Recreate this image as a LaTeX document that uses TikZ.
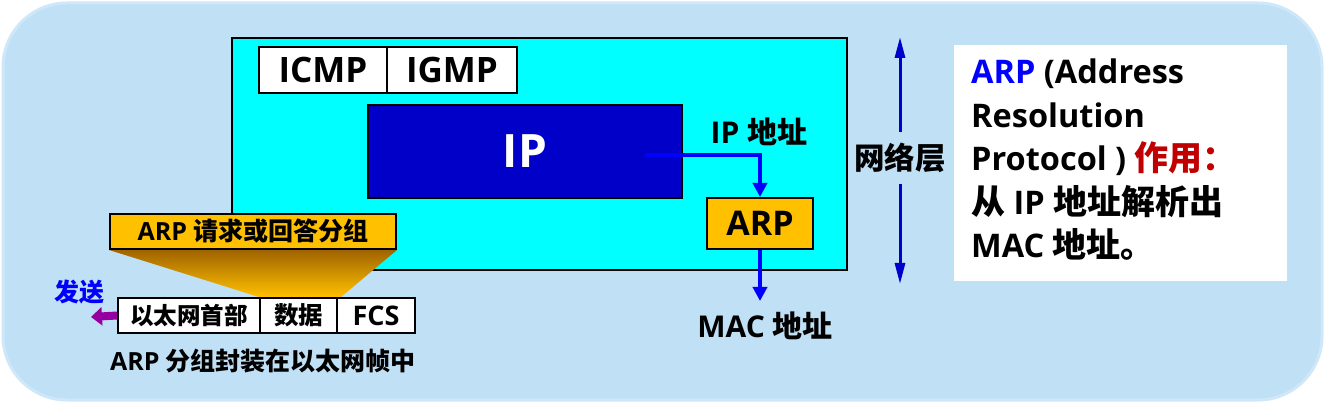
\documentclass[tikz,border=0pt]{standalone}
\usepackage{fontspec}
\setmainfont{Open Sans}
\newfontfamily\cjk{Noto Sans CJK SC}
\newfontfamily\cjkL{Noto Sans CJK SC}[Scale=1.045]
\usetikzlibrary{arrows.meta}
\definecolor{bgblue}{RGB}{192,224,245}
\definecolor{bgedge}{RGB}{206,232,250}
\definecolor{netcyan}{RGB}{0,255,255}
\definecolor{ipblue}{RGB}{0,0,200}
\definecolor{arporange}{RGB}{255,192,0}
\definecolor{arrblue}{RGB}{0,0,255}
\definecolor{vblue}{RGB}{0,0,205}
\definecolor{sendpurple}{RGB}{150,0,160}
\definecolor{darkred}{RGB}{192,0,0}
\definecolor{trapdark}{RGB}{160,100,0}
\pgfdeclarelayer{back}
\pgfdeclarelayer{mid}
\pgfsetlayers{back,mid,main}
\tikzset{
  box/.style={draw=black, line width=2pt, inner sep=0pt, font=\bfseries},
  txt/.style={inner sep=0pt, font=\bfseries},
  barrow/.style={draw=arrblue, line width=4pt, -{Triangle[width=14pt,length=14pt]}},
  varrow/.style={draw=vblue, line width=3pt, -{Triangle[width=10pt,length=21pt]}},
  parrow/.style={draw=sendpurple, line width=8pt, -{Triangle[width=18pt,length=11pt]}},
}
\begin{document}
\begin{tikzpicture}[x=1pt,y=-1pt]
\useasboundingbox (0,0) rectangle (1325,403);
\begin{pgfonlayer}{back}
\fill[white] (0,0) rectangle (1325,403);
\draw[fill=bgblue, draw=bgedge, line width=3pt, rounded corners=64pt] (3,3) rectangle (1322,400);
\node[box, fill=netcyan, minimum width=615pt, minimum height=232pt] (net) at (539.5,154) {};
\end{pgfonlayer}

% upper protocols
\node[box, fill=white, minimum width=128pt, minimum height=46pt, font=\bfseries\fontsize{35}{40}\selectfont] (icmp) at (323,70) {ICMP};
\node[box, fill=white, minimum width=130pt, minimum height=46pt, font=\bfseries\fontsize{35}{40}\selectfont] (igmp) at (452,70) {IGMP};

% IP
\node[box, fill=ipblue, text=white, minimum width=314pt, minimum height=93pt, font=\bfseries\fontsize{46}{52}\selectfont] (ip) at (525,151.5) {IP};
\coordinate (ipout) at (645,155);

% ARP
\node[box, fill=arporange, minimum width=106pt, minimum height=51pt, font=\bfseries\fontsize{34}{40}\selectfont] (arp) at (760,223.5) {ARP};
\draw[barrow] (ipout) -| (arp.north);
\node[txt, font=\bfseries\fontsize{30}{36}\selectfont] (ipaddr) at (759,132) {IP {\cjk\bfseries 地址}};
\coordinate (macend) at (760,301);
\draw[barrow] (arp.south) -- (macend);
\node[txt, font=\bfseries\fontsize{30}{36}\selectfont] (mac) at (765,326) {MAC {\cjk\bfseries 地址}};

% network layer arrow
\node[txt, minimum height=51pt, font=\cjk\bfseries\fontsize{30.5}{34}\selectfont] (layer) at (900,158) {网络层};
\coordinate (vtop) at (900,37);
\coordinate (vbot) at (900,284);
\draw[varrow] (layer.north) -- (vtop);
\draw[varrow] (layer.south) -- (vbot);

% explanation box
\node[fill=white, inner sep=0pt, minimum width=333pt, minimum height=236pt] (expl) at (1120.5,163) {};
\node[txt, anchor=west, align=left, font=\bfseries\fontsize{32.5}{43.5}\selectfont] (expltext) at (971,160)
 {{\color{arrblue}ARP} (Address\\
  Resolution\\
  Protocol ) {\color{darkred}\cjkL\bfseries 作用：}\\
  {\cjkL\bfseries 从} IP {\cjkL\bfseries 地址解析出}\\
  MAC {\cjkL\bfseries 地址。}};

% ARP packet and ethernet frame
\node[box, fill=arporange, minimum width=286pt, minimum height=35pt, font=\bfseries\fontsize{25}{30}\selectfont] (req) at (253,231.5) {ARP {\cjk\bfseries 请求或回答分组}};
\node[box, fill=white, minimum width=142pt, minimum height=35pt, font=\cjk\bfseries\fontsize{23.5}{28}\selectfont] (eth) at (189,315.5) {以太网首部};
\node[box, fill=white, minimum width=77pt, minimum height=35pt, font=\cjk\bfseries\fontsize{24.5}{28}\selectfont] (data) at (298.5,315.5) {数据};
\node[box, fill=white, minimum width=78pt, minimum height=35pt, font=\bfseries\fontsize{27}{32}\selectfont] (fcs) at (376,315.5) {FCS};
\begin{pgfonlayer}{mid}
\shade[top color=trapdark, bottom color=arporange] (req.south west) -- (req.south east) -- ([xshift=3pt]data.north east) -- (data.north west) -- cycle;
\end{pgfonlayer}
\coordinate (sendend) at (91,317);
\draw[parrow] (eth.west) -- (sendend);
\node[txt, text=arrblue, font=\cjk\bfseries\fontsize{25}{28}\selectfont] (send) at (79,292) {发送};
\node[txt, font=\bfseries\fontsize{25}{30}\selectfont] (caption) at (263,361) {ARP {\cjk\bfseries 分组封装在以太网帧中}};
\end{tikzpicture}
\end{document}
